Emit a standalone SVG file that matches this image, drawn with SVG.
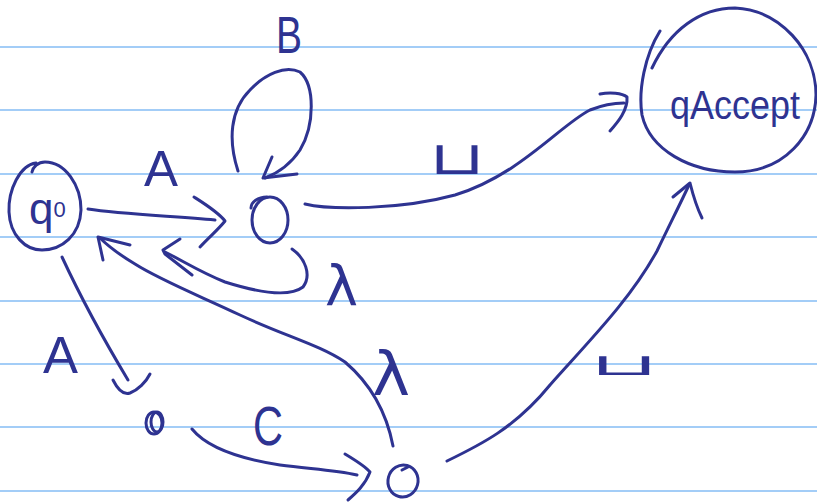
<svg xmlns="http://www.w3.org/2000/svg" width="817" height="504" viewBox="0 0 817 504">
<style>
.rule{stroke:#a3cdf7;stroke-width:2;fill:none}
.ink{stroke:#2e3391;stroke-width:3;fill:none;stroke-linecap:round;stroke-linejoin:round}
.lbl{fill:#2e3391;font-family:"Liberation Sans","DejaVu Sans",sans-serif}
.sym{fill:#2e3391;font-family:"DejaVu Sans",sans-serif}
</style>
<rect width="817" height="504" fill="#ffffff"/>
<g id="paper">
<line class="rule" x1="0" y1="47" x2="817" y2="47"/>
<line class="rule" x1="0" y1="110" x2="817" y2="110"/>
<line class="rule" x1="0" y1="174" x2="817" y2="174"/>
<line class="rule" x1="0" y1="237" x2="817" y2="237"/>
<line class="rule" x1="0" y1="301" x2="817" y2="301"/>
<line class="rule" x1="0" y1="364" x2="817" y2="364"/>
<line class="rule" x1="0" y1="427" x2="817" y2="427"/>
<line class="rule" x1="0" y1="491" x2="817" y2="491"/>
</g>
<g id="connectors">
<path class="ink" d="M88,209 C120,214 170,216 215,220"/>
<path class="ink" d="M194,197 C205,204 218,212 225,221 C218,230 208,238 200,247"/>
<path class="ink" d="M238,171 C228,140 230,110 250,90 C265,74 285,65 300,72 C315,85 315,125 300,150 C290,165 278,173 265,178"/>
<path class="ink" d="M272,157 L263,178 L297,174"/>
<path class="ink" d="M305,204 C330,210 400,210 455,195 C520,175 560,125 590,110 C605,104 615,103 624,103"/>
<path class="ink" d="M600,94 C610,92 622,93 627,97 C628,110 618,122 610,131"/>
<path class="ink" d="M447,461 C480,445 515,428 550,385 C590,340 630,300 657,251 C672,220 682,200 689,185"/>
<path class="ink" d="M673,197 L690,183 C693,195 697,208 702,218"/>
<path class="ink" d="M292,249 C305,258 312,275 303,287 C290,297 260,293 225,282 C200,272 185,262 165,252"/>
<path class="ink" d="M180,239 L163,250 L165,254 L192,275"/>
<path class="ink" d="M393,446 C387,415 372,385 345,362 C320,345 285,336 240,315 C200,296 160,280 135,264 C120,255 108,246 100,238"/>
<path class="ink" d="M103,260 L98,237 L130,245"/>
<path class="ink" d="M62,257 C75,285 95,325 128,380"/>
<path class="ink" d="M113,380 C118,390 124,395 130,393 C138,390 146,382 150,374"/>
<path class="ink" d="M192,429 C205,445 235,458 280,465 C310,469 335,470 357,475"/>
<path class="ink" d="M345,454 C355,460 365,466 370,472 C365,485 356,493 348,500"/>
</g>
<g id="q0">
<path class="ink" d="M36,163 C20,165 8,190 9,212 C10,235 25,250 42,250 C62,250 80,235 81,210 C81,185 65,162 45,162 C38,162 33,167 32,172"/>
<text class="lbl" x="29" y="224" font-size="44">q<tspan font-size="22" dy="-7">0</tspan></text>
</g>
<g id="s1">
<ellipse class="ink" cx="270" cy="220" rx="18" ry="23"/>
<path class="ink" d="M251,208 C251,202 258,197 267,197"/>
</g>
<g id="qaccept">
<path class="ink" d="M660,31 C645,55 638,90 642,115 C650,150 690,172 735,172 C785,172 815,135 816,95 C816,50 780,10 735,8 C700,8 670,30 652,68"/>
<text class="lbl" x="670" y="119" font-size="40" textLength="130" lengthAdjust="spacingAndGlyphs">qAccept</text>
</g>
<g id="s2">
<ellipse class="ink" cx="154" cy="423" rx="8" ry="11"/>
<ellipse class="ink" cx="157" cy="422" rx="6" ry="10"/>
</g>
<g id="s3">
<ellipse class="ink" cx="403" cy="481" rx="15" ry="16" transform="rotate(15 403 481)"/>
<path class="ink" d="M402,470 L408,467"/>
</g>
<g id="labels">
<text class="lbl" x="276" y="53" font-size="52" textLength="26" lengthAdjust="spacingAndGlyphs">B</text>
<text class="lbl" x="144" y="186" font-size="50" textLength="34" lengthAdjust="spacingAndGlyphs">A</text>
<text class="lbl" x="43" y="373" font-size="52" textLength="35" lengthAdjust="spacingAndGlyphs">A</text>
<text class="lbl" x="253" y="445" font-size="55" textLength="30" lengthAdjust="spacingAndGlyphs">C</text>
<text class="sym" x="325" y="305" font-size="56" textLength="33" lengthAdjust="spacingAndGlyphs">λ</text>
<text class="sym" x="372" y="395" font-size="60" textLength="38" lengthAdjust="spacingAndGlyphs">λ</text>
<text class="sym" x="429" y="174" font-size="46" textLength="56" lengthAdjust="spacingAndGlyphs">⊔</text>
<text class="sym" x="590" y="375" font-size="30" textLength="69" lengthAdjust="spacingAndGlyphs">⊔</text>
</g>
</svg>
